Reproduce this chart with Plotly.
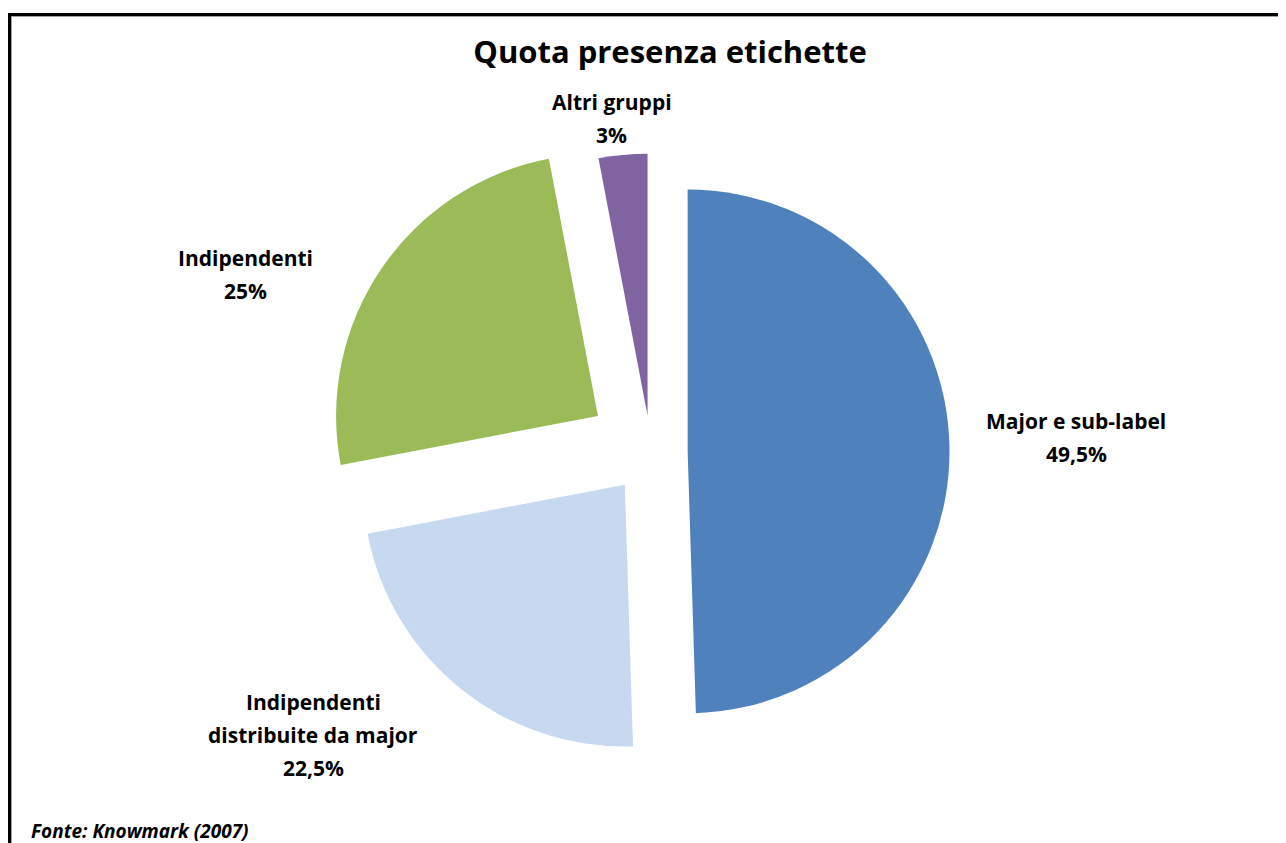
import math
import plotly.graph_objects as go

categories = ["Major e sub-label", "Indipendenti distribuite da major", "Indipendenti", "Altri gruppi"]
display_labels = ["Major e sub-label", "Indipendenti<br>distribuite da major", "Indipendenti", "Altri gruppi"]
values = [49.5, 22.5, 25, 3]
colors = ["#4F81BD", "#C6D9F1", "#9BBB59", "#8064A2"]
pulls = [0.14, 0.16, 0.245, 0.14]
# label offset (pixels) from each pulled slice's outer mid-point
label_dx = [127, -148, -136, -11]
label_dy = [-10, 46, 6, -36]
LINE_GAP = 33

texts = [f"{lab}<br>{('%g' % v).replace('.', ',')}%" for lab, v in zip(display_labels, values)]

OFF = 8  # browser body margin
W, H = 1286, 843
L, R, T, B = 200 - OFF, 184 + OFF, 126 - OFF, 65 + OFF
pw, ph = W - L - R, H - T - B


def px_x(x):  # page pixel -> paper
    return (x - OFF - L) / pw


def px_y(y):
    return 1 - (y - OFF - T) / ph


fig = go.Figure(go.Pie(
    labels=categories,
    values=values,
    textinfo="none",
    sort=False,
    direction="clockwise",
    rotation=0,
    pull=pulls,
    marker=dict(colors=colors, line=dict(width=0)),
    showlegend=False,
    hoverinfo="label+percent",
))

# pie geometry as plotly computes it (figure pixels)
r = min(pw, ph) / (2 + 2 * max(pulls))
cx = L + pw / 2
cy = T + ph / 2
total = sum(values)
annotations = []
cum = 0
for i, v in enumerate(values):
    mid = (cum + v / 2) / total * 2 * math.pi
    cum += v
    d = r * (1 + pulls[i])
    tx = cx + d * math.sin(mid) + label_dx[i]
    ty = cy - d * math.cos(mid) + label_dy[i]
    lines = texts[i].split("<br>")
    n = len(lines)
    for k, line in enumerate(lines):
        ly = ty + (k - (n - 1) / 2) * LINE_GAP
        annotations.append(dict(
            text=f"<b>{line}</b>", xref="paper", yref="paper",
            x=(tx - L) / pw, y=1 - (ly - T) / ph, xanchor="center", yanchor="middle",
            showarrow=False, align="center",
            font=dict(family="Open Sans", size=21, color="#000000")))

annotations.append(dict(text="<b><i>Fonte: Knowmark (2007)</i></b>", xref="paper", yref="paper",
                        x=px_x(29), y=px_y(831), xanchor="left", yanchor="middle",
                        showarrow=False, font=dict(family="Open Sans", size=19, color="#000000")))

fig.update_layout(
    width=W, height=H,
    margin=dict(l=L, r=R, t=T, b=B),
    paper_bgcolor="white",
    plot_bgcolor="white",
    separators=",.",
    title=dict(text="<b>Quota presenza etichette</b>", x=(670 - OFF) / W, xanchor="center",
               y=1 - (52 - OFF) / H, yanchor="middle",
               font=dict(family="Open Sans", size=31, color="#000000")),
    annotations=annotations,
    shapes=[
        dict(type="line", xref="paper", yref="paper", x0=px_x(9), x1=px_x(1300),
             y0=px_y(14.5), y1=px_y(14.5), line=dict(color="#000000", width=3)),
        dict(type="line", xref="paper", yref="paper", x0=px_x(9.5), x1=px_x(9.5),
             y0=px_y(13), y1=px_y(860), line=dict(color="#000000", width=3)),
        dict(type="line", xref="paper", yref="paper", x0=px_x(11), x1=px_x(1300),
             y0=px_y(16.5), y1=px_y(16.5), line=dict(color="#A0A0A0", width=1)),
        dict(type="line", xref="paper", yref="paper", x0=px_x(11.5), x1=px_x(11.5),
             y0=px_y(16), y1=px_y(860), line=dict(color="#A0A0A0", width=1)),
    ],
)

fig.write_html("out.html")
